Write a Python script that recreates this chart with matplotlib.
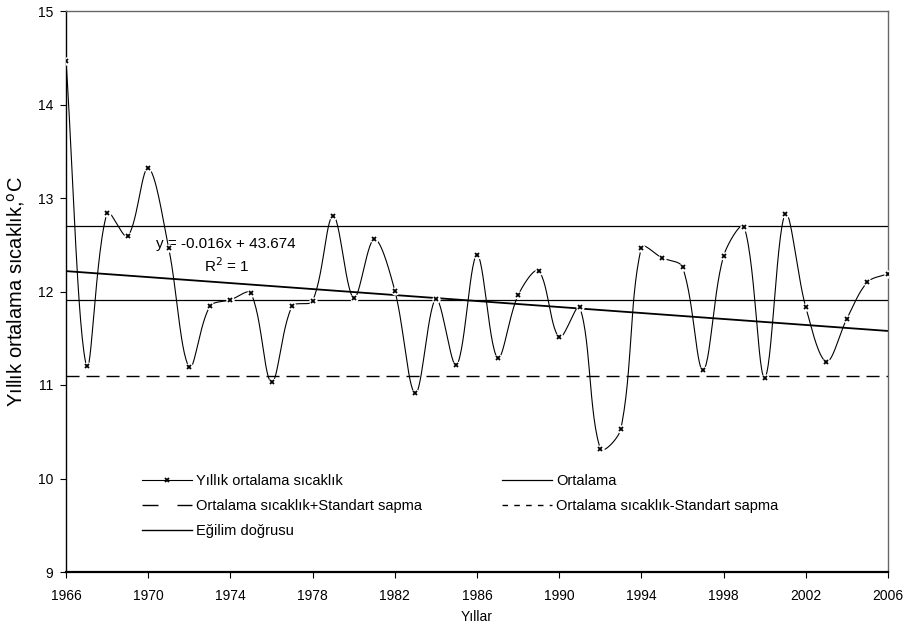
import numpy as np
import matplotlib.pyplot as plt
from matplotlib.lines import Line2D

plt.rcParams['font.family'] = ['Liberation Sans', 'DejaVu Sans']

years = np.arange(1966, 2007)
temps = [14.47, 11.20, 12.84, 12.59, 13.32, 12.46, 11.19, 11.84, 11.91, 11.98,
         11.03, 11.84, 11.90, 12.81, 11.93, 12.56, 12.01, 10.91, 11.92, 11.21,
         12.39, 11.29, 11.96, 12.22, 11.51, 11.83, 10.32, 10.53, 12.47, 12.36,
         12.26, 11.16, 12.38, 12.69, 11.08, 12.83, 11.83, 11.25, 11.71, 12.10,
         12.19]
mean_val = 11.91
std_hi = 12.70
std_lo = 11.10
slope = -0.016
intercept = 43.674

xticks = np.arange(1966, 2007, 4)
yticks = np.arange(9, 16, 1)


# smoothed line like the spreadsheet one: bezier through the points,
# tangent lengths weighted by the (screen) length of the neighbouring segments
def smooth(x, y, sx=20.55, sy=93.5, n=30):
    p = np.column_stack([np.asarray(x, float), np.asarray(y, float)])
    p = np.vstack([p[0], p, p[-1]])
    scale = np.array([sx, sy])
    t = np.linspace(0, 1, n)[:, None]
    out = []
    for i in range(1, len(p) - 2):
        p0, p1, p2, p3 = p[i - 1], p[i], p[i + 1], p[i + 2]
        d01 = np.linalg.norm((p1 - p0) * scale)
        d12 = np.linalg.norm((p2 - p1) * scale)
        d23 = np.linalg.norm((p3 - p2) * scale)
        f1 = d12 / (d01 + d12) if d01 + d12 > 0 else 0
        f2 = d12 / (d12 + d23) if d12 + d23 > 0 else 0
        c1 = p1 + (p2 - p0) * f1 / 3
        c2 = p2 - (p3 - p1) * f2 / 3
        b = (1 - t) ** 3 * p1 + 3 * (1 - t) ** 2 * t * c1 + 3 * (1 - t) * t ** 2 * c2 + t ** 3 * p2
        out.append(b)
    out = np.vstack(out)
    return out[:, 0], out[:, 1]


fig = plt.figure(figsize=(9.09, 6.32), dpi=100)
ax = fig.add_axes([66 / 909, 1 - 572 / 632, 822 / 909, 561 / 632])

cx, cy = smooth(years, temps)
ax.plot(cx, cy, color='black', lw=0.8, zorder=3)
ax.plot(years, temps, ls='none', marker='o', ms=6, mfc='white', mec='none', zorder=4)
ax.plot(years, temps, ls='none', marker='x', ms=3.5, mew=1.3, color='black', zorder=5)

ax.axhline(mean_val, color='black', lw=0.9, zorder=2)
ax.axhline(std_hi, color='black', lw=0.9, zorder=2)
ax.axhline(std_lo, color='black', lw=1.0, ls=(0, (9.4, 5)), zorder=2)

tx = np.array([1966, 2006])
ax.plot(tx, slope * tx + intercept, color='black', lw=1.3, zorder=2)

ax.text(1973.8, 12.51, 'y = -0.016x + 43.674', ha='center', va='center', fontsize=11)
ax.text(1973.8, 12.28, 'R$^{2}$ = 1', ha='center', va='center', fontsize=11)

ax.set_xlim(1966, 2006)
ax.set_ylim(9, 15)
ax.set_xticks(xticks)
ax.set_yticks(yticks)
ax.tick_params(labelsize=10, direction='out', length=4, width=0.8)
ax.tick_params(axis='x', pad=8)
ax.tick_params(axis='y', pad=5)
for s in ax.spines.values():
    s.set_color('#666666')
    s.set_linewidth(1.0)
ax.spines['left'].set_color('black')
ax.spines['bottom'].set_color('black')
ax.spines['bottom'].set_linewidth(1.6)

ax.set_xlabel('Yıllar', fontsize=10, labelpad=5)
ax.set_ylabel('Yıllık ortalama sıcaklık,$^{\\mathrm{o}}$C', fontsize=14.5, labelpad=8)

h_data = Line2D([], [], color='black', lw=0.8, marker='x', ms=3.5, mew=1.3)
h_mean = Line2D([], [], color='black', lw=0.9)
h_hi = Line2D([], [], color='black', lw=1.0, ls=(0, (11.5, 13.7)))
h_lo = Line2D([], [], color='black', lw=1.0, ls=(0, (4, 4.5)))
h_tr = Line2D([], [], color='black', lw=1.0)
handles = [h_data, h_hi, h_tr, h_mean, h_lo]
labels = ['Yıllık ortalama sıcaklık', 'Ortalama sıcaklık+Standart sapma',
          'Eğilim doğrusu', 'Ortalama', 'Ortalama sıcaklık-Standart sapma']
ax.legend(handles, labels, ncol=2, frameon=False, loc='upper left',
          bbox_to_anchor=(0.0925, 0.175), borderpad=0, borderaxespad=0,
          fontsize=10.5, handlelength=3.4, columnspacing=5.5,
          labelspacing=0.75, handletextpad=0.3)

fig.savefig('out.png', dpi=100)
